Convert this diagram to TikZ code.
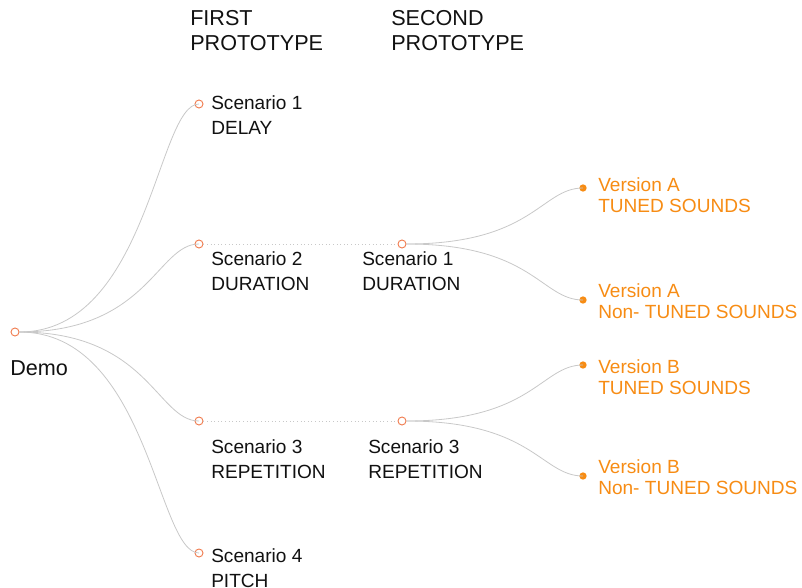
\documentclass[tikz,border=0pt]{standalone}
\usepackage{fontspec}
\setmainfont{Liberation Sans}
\definecolor{linkgray}{RGB}{200,200,200}
\definecolor{dotorange}{RGB}{240,125,80}
\definecolor{versionorange}{RGB}{247,140,20}
\definecolor{textblack}{RGB}{17,17,17}
\begin{document}
\begin{tikzpicture}[x=0.75pt,y=-0.75pt,
  link/.style={draw=linkgray, line width=0.6pt},
  dotlink/.style={draw=linkgray, line width=0.7pt, dotted},
  opendot/.style={circle, draw=dotorange, line width=0.7pt, minimum size=6pt, inner sep=0pt},
  filldot/.style={circle, fill=versionorange, minimum size=5.5pt, inner sep=0pt},
  lbl/.style={anchor=base west, inner sep=0pt, font=\fontsize{14.3}{17}\selectfont, text=textblack},
  vlbl/.style={lbl, text=versionorange},
  head/.style={lbl, font=\fontsize{16.2}{19}\selectfont},
]
\useasboundingbox (0,0) rectangle (802,588);

% headers
\node[head] (h1a) at (190,26) {FIRST};
\node[head] (h1b) at (190,51) {PROTOTYPE};
\node[head] (h2a) at (391,26) {SECOND};
\node[head] (h2b) at (391,51) {PROTOTYPE};

% dots
\node[opendot] (demo) at (15,332) {};
\node[opendot] (s1) at (199,104) {};
\node[opendot] (s2) at (199,244) {};
\node[opendot] (s3) at (199,421) {};
\node[opendot] (s4) at (199,553) {};
\node[opendot] (t1) at (402,244) {};
\node[opendot] (t3) at (402,421) {};
\node[filldot] (va1) at (583,188) {};
\node[filldot] (va2) at (583,300) {};
\node[filldot] (vb1) at (583,365) {};
\node[filldot] (vb2) at (583,476) {};

% labels
\node[head] (ldemo) at (10,375) {Demo};
\node[lbl] (l1a) at (211,110) {Scenario 1};
\node[lbl] (l1b) at (211,135) {DELAY};
\node[lbl] (l2a) at (211,265) {Scenario 2};
\node[lbl] (l2b) at (211,290) {DURATION};
\node[lbl] (l3a) at (211,453) {Scenario 3};
\node[lbl] (l3b) at (211,478) {REPETITION};
\node[lbl] (l4a) at (211,562) {Scenario 4};
\node[lbl] (l4b) at (211,587) {PITCH};
\node[lbl] (m1a) at (362,265) {Scenario 1};
\node[lbl] (m1b) at (362,290) {DURATION};
\node[lbl] (m3a) at (368,453) {Scenario 3};
\node[lbl] (m3b) at (368,478) {REPETITION};
\node[vlbl] (a1a) at (598,191) {Version A};
\node[vlbl] (a1b) at (598,212) {TUNED SOUNDS};
\node[vlbl] (a2a) at (598,297) {Version A};
\node[vlbl] (a2b) at (598,318) {Non- TUNED SOUNDS};
\node[vlbl] (b1a) at (598,373) {Version B};
\node[vlbl] (b1b) at (598,394) {TUNED SOUNDS};
\node[vlbl] (b2a) at (598,473) {Version B};
\node[vlbl] (b2b) at (598,494) {Non- TUNED SOUNDS};

% links
\foreach \t in {s1,s2,s3,s4}
  \draw[link] (demo.east) .. controls +(129,0) and +(-42,0) .. (\t.center);
\foreach \t in {va1,va2}
  \draw[link] (t1.east) .. controls +(127,0) and +(-42,0) .. (\t.center);
\foreach \t in {vb1,vb2}
  \draw[link] (t3.east) .. controls +(127,0) and +(-42,0) .. (\t.center);
\draw[dotlink] (s2.east) -- (t1.west);
\draw[dotlink] (s3.east) -- (t3.west);
\end{tikzpicture}
\end{document}
